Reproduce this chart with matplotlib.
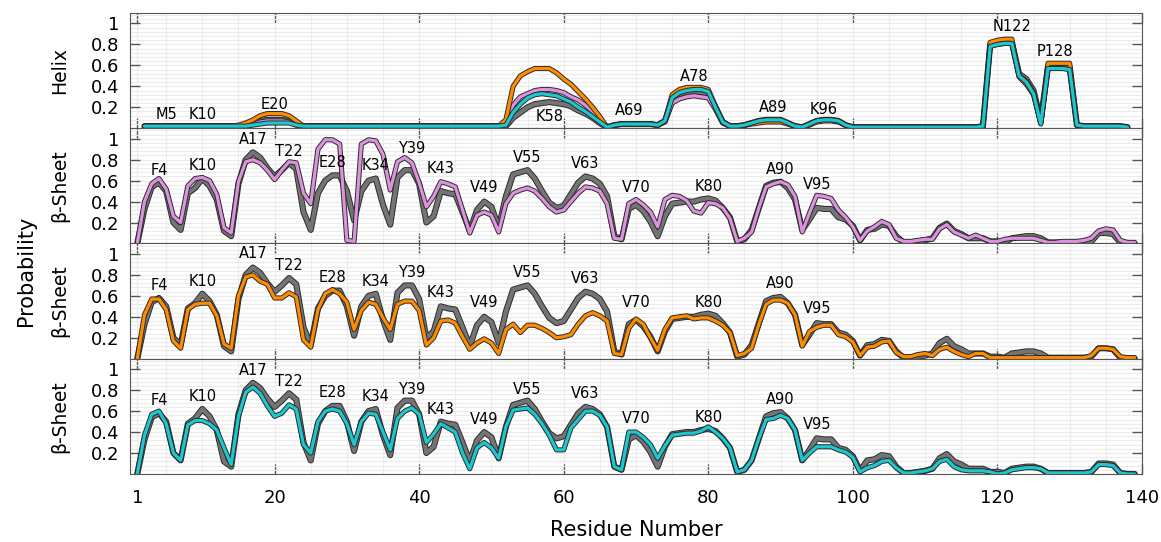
import numpy as np
import matplotlib
matplotlib.use('Agg')
import matplotlib.pyplot as plt
import matplotlib.patheffects as pe
from matplotlib.ticker import MultipleLocator, FixedLocator, FuncFormatter

nan = np.nan
residue = list(range(1, 140))

# ---- helix probability (all four systems) ----
gray_helix = [nan, .02, .02, .02, .02, .02, .02, .02, .02, .02,
              .02, .02, .02, .02, .02, .03, .05, .07, .08, .08,
              .08, .07, .04, .02, .02, .02, .02, .02, .02, .02,
              .02, .02, .02, .02, .02, .02, .02, .02, .02, .02,
              .02, .02, .02, .02, .02, .02, .02, .02, .02, .02,
              .02, .02, .10, .15, .20, .23, .24, .25, .24, .23,
              .21, .17, .14, .10, .05, .01, .03, .04, .04, .04,
              .04, .04, .03, .07, .27, .32, .34, .35, .34, .33,
              .20, .06, .02, .02, .03, .05, .07, .08, .08, .08,
              .05, .02, .01, .04, .07, .08, .08, .07, .03, .01,
              .01, .01, .01, .01, .01, .01, .01, .01, .01, .01,
              .01, .01, .01, .01, .01, .01, .01, .02, .80, .81,
              .82, .82, .52, .47, .36, .07, .59, .59, .59, .58,
              .03, .02, .02, .02, .02, .02, .02, .01, nan]
violet_helix = [nan, .02, .02, .02, .02, .02, .02, .02, .02, .02,
                .02, .02, .02, .02, .02, .02, .04, .06, .07, .07,
                .07, .06, .03, .02, .02, .02, .02, .02, .02, .02,
                .02, .02, .02, .02, .02, .02, .02, .02, .02, .02,
                .02, .02, .02, .02, .02, .02, .02, .02, .02, .02,
                .02, .05, .22, .30, .33, .36, .37, .37, .36, .34,
                .30, .27, .22, .16, .08, .01, .03, .04, .04, .04,
                .04, .04, .03, .06, .24, .28, .30, .31, .30, .29,
                .18, .05, .02, .02, .03, .05, .07, .07, .07, .07,
                .05, .02, .01, .04, .07, .08, .08, .07, .03, .01,
                .01, .01, .01, .01, .01, .01, .01, .01, .01, .01,
                .01, .01, .01, .01, .01, .01, .01, .02, .79, .80,
                .81, .81, .50, .45, .34, .05, .58, .58, .58, .57,
                .03, .02, .02, .02, .02, .02, .02, .01, nan]
orange_helix = [nan, .02, .02, .02, .02, .02, .02, .02, .02, .02,
                .02, .02, .02, .02, .03, .05, .08, .12, .14, .14,
                .14, .12, .07, .02, .02, .02, .02, .02, .02, .02,
                .02, .02, .02, .02, .02, .02, .02, .02, .02, .02,
                .02, .02, .02, .02, .02, .02, .02, .02, .02, .02,
                .02, .08, .40, .50, .54, .57, .57, .57, .53, .47,
                .42, .35, .28, .20, .11, .01, .03, .04, .04, .04,
                .04, .04, .03, .07, .32, .37, .39, .39, .39, .37,
                .21, .06, .02, .02, .03, .04, .05, .06, .06, .06,
                .04, .02, .01, .03, .06, .07, .07, .06, .03, .01,
                .01, .01, .01, .01, .01, .01, .01, .01, .01, .01,
                .01, .01, .01, .01, .01, .01, .01, .02, .82, .84,
                .85, .85, .49, .42, .32, .05, .62, .62, .62, .62,
                .03, .02, .02, .02, .02, .02, .02, .01, nan]
cyan_helix = [nan, .02, .02, .02, .02, .02, .02, .02, .02, .02,
              .02, .02, .02, .02, .02, .02, .03, .04, .05, .05,
              .05, .05, .03, .02, .02, .02, .02, .02, .02, .02,
              .02, .02, .02, .02, .02, .02, .02, .02, .02, .02,
              .02, .02, .02, .02, .02, .02, .02, .02, .02, .02,
              .02, .03, .15, .23, .29, .32, .33, .32, .31, .28,
              .25, .20, .16, .11, .06, .01, .03, .04, .04, .04,
              .04, .04, .03, .07, .29, .34, .36, .37, .37, .35,
              .20, .06, .02, .02, .03, .05, .07, .08, .08, .08,
              .05, .02, .01, .04, .07, .08, .08, .07, .03, .01,
              .01, .01, .01, .01, .01, .01, .01, .01, .01, .01,
              .01, .01, .01, .01, .01, .01, .01, .02, .78, .80,
              .81, .81, .50, .44, .33, .04, .57, .57, .57, .56,
              .03, .02, .02, .02, .02, .02, .02, .01, nan]

# ---- beta-sheet probability ----
gray_sheet = [0, .33, .54, .58, .50, .20, .13, .48, .53, .62,
              .55, .42, .12, .07, .57, .80, .87, .82, .72, .64,
              .70, .77, .71, .30, .13, .48, .60, .65, .65, .50,
              .22, .50, .60, .62, .37, .18, .63, .70, .70, .57,
              .20, .26, .50, .48, .47, .30, .12, .32, .40, .35,
              .15, .45, .66, .68, .70, .62, .50, .39, .34, .36,
              .47, .58, .64, .62, .57, .45, .07, .04, .33, .37,
              .31, .21, .07, .26, .38, .39, .40, .40, .42, .43,
              .41, .34, .25, .02, .04, .13, .34, .55, .58, .59,
              .53, .42, .13, .23, .34, .33, .33, .25, .23, .17,
              .03, .13, .14, .18, .17, .07, .01, .01, .02, .03,
              .05, .15, .19, .12, .09, .05, .05, .05, .02, .02,
              .01, .05, .06, .07, .07, .05, .01, .01, .01, .01,
              .01, .01, .02, .10, .10, .09, .01, .00, .00]
violet_sheet = [0, .40, .57, .62, .52, .26, .20, .55, .62, .63,
                .60, .47, .15, .10, .59, .78, .80, .77, .70, .61,
                .70, .78, .77, .48, .38, .90, .99, .99, .95, .03,
                .02, .95, .99, .98, .85, .51, .78, .82, .77, .58,
                .35, .45, .59, .57, .54, .32, .10, .27, .30, .27,
                .11, .38, .48, .51, .53, .50, .43, .35, .30, .32,
                .40, .48, .54, .53, .50, .38, .05, .04, .38, .42,
                .37, .30, .16, .42, .46, .45, .41, .31, .29, .39,
                .38, .34, .24, .02, .05, .11, .34, .54, .57, .59,
                .56, .45, .11, .29, .46, .45, .43, .32, .25, .16,
                .03, .12, .16, .21, .18, .05, .02, .02, .03, .04,
                .04, .14, .18, .11, .08, .05, .08, .05, .02, .02,
                .04, .05, .05, .05, .05, .03, .01, .01, .02, .02,
                .02, .03, .05, .12, .14, .13, .03, .01, .01]
orange_sheet = [0, .42, .57, .57, .47, .17, .10, .47, .52, .53,
                .53, .41, .14, .10, .60, .78, .80, .74, .71, .58,
                .58, .63, .59, .18, .11, .47, .62, .66, .62, .54,
                .28, .46, .54, .52, .39, .28, .52, .55, .55, .46,
                .13, .20, .36, .37, .34, .21, .09, .15, .19, .15,
                .05, .28, .33, .25, .32, .32, .29, .25, .20, .21,
                .23, .33, .41, .44, .41, .36, .05, .04, .29, .38,
                .33, .20, .08, .28, .39, .40, .41, .38, .39, .39,
                .36, .32, .25, .03, .05, .10, .33, .52, .56, .56,
                .53, .42, .12, .26, .30, .32, .32, .23, .21, .16,
                .03, .11, .12, .16, .17, .06, .02, .02, .04, .05,
                .03, .09, .11, .07, .04, .02, .05, .05, .01, .01,
                .01, .01, .01, .01, .01, .01, .01, .01, .01, .01,
                .01, .01, .03, .10, .10, .09, .02, .01, .01]
cyan_sheet = [0, .37, .57, .60, .48, .20, .13, .47, .51, .51,
              .48, .42, .25, .09, .55, .78, .83, .77, .65, .55,
              .58, .66, .62, .28, .20, .50, .60, .62, .60, .48,
              .28, .50, .58, .57, .40, .23, .53, .60, .63, .57,
              .30, .38, .48, .44, .40, .20, .05, .25, .30, .25,
              .15, .45, .61, .62, .63, .57, .48, .37, .23, .23,
              .44, .52, .60, .60, .56, .45, .07, .04, .40, .40,
              .35, .28, .15, .27, .37, .38, .39, .39, .41, .45,
              .40, .34, .25, .02, .04, .13, .34, .52, .53, .56,
              .53, .42, .13, .20, .26, .26, .26, .23, .21, .16,
              .02, .06, .08, .12, .13, .06, .01, .01, .02, .03,
              .05, .12, .14, .07, .04, .03, .03, .03, .02, .00,
              .01, .04, .05, .06, .06, .05, .01, .01, .01, .01,
              .01, .01, .02, .09, .09, .08, .01, .00, .00]

# ---- residue labels (name, residue, height) ----
helix_labels = [('M5', 5, .13), ('K10', 10, .13), ('E20', 20, .23), ('K58', 58, .11),
                ('A69', 69, .17), ('A78', 78, .49), ('A89', 89, .20), ('K96', 96, .18),
                ('N122', 122, .97), ('P128', 128, .73)]
sheet_names = ['F4', 'K10', 'A17', 'T22', 'E28', 'K34', 'Y39', 'K43', 'V49',
               'V55', 'V63', 'V70', 'K80', 'A90', 'V95']
sheet_pos = [4, 10, 17, 22, 28, 34, 39, 43, 49, 55, 63, 70, 80, 90, 95]
sheet_y2 = [.70, .74, .99, .88, .77, .74, .91, .72, .53, .82, .76, .53, .54, .71, .56]
sheet_y3 = [.70, .74, 1.0, .89, .78, .74, .82, .63, .54, .82, .77, .54, .54, .72, .48]
sheet_y4 = [.70, .74, .99, .88, .78, .74, .81, .62, .52, .81, .77, .53, .54, .71, .47]

GRAY = '#747474'
VIOLET = '#dc92dc'
ORANGE = '#ff8c00'
CYAN = '#1cc8cf'


def outlined(ax, x, y, color, lw=2.3, edge=3.7):
    ax.plot(x, y, color=color, lw=lw, solid_joinstyle='round', solid_capstyle='round',
            path_effects=[pe.Stroke(linewidth=edge, foreground='#2b2b2b'), pe.Normal()])


def main():
    # all tick / grid styling through rcParams so every tick gets it
    plt.rcParams['font.family'] = 'DejaVu Sans'
    plt.rcParams['grid.color'] = '#ebebeb'
    plt.rcParams['grid.linewidth'] = 0.8
    plt.rcParams['grid.linestyle'] = '-'
    for a in ('xtick', 'ytick'):
        plt.rcParams[a + '.direction'] = 'in'
        plt.rcParams[a + '.major.size'] = 7.5
        plt.rcParams[a + '.major.width'] = 1
        plt.rcParams[a + '.minor.size'] = 0
        plt.rcParams[a + '.color'] = '#555555'
        plt.rcParams[a + '.labelcolor'] = 'black'
        plt.rcParams[a + '.labelsize'] = 13
        plt.rcParams[a + '.major.pad'] = 8
    plt.rcParams['xtick.top'] = True
    plt.rcParams['ytick.right'] = True
    plt.rcParams['axes.edgecolor'] = '#555555'

    fig, axes = plt.subplots(4, 1, sharex=True, figsize=(11.61, 5.42), dpi=100,
                             gridspec_kw=dict(hspace=0))
    fig.subplots_adjust(left=0.112, right=0.9836, top=0.976, bottom=0.1255)

    # helix panel
    ax = axes[0]
    outlined(ax, residue, gray_helix, GRAY, lw=3.0, edge=4.4)
    outlined(ax, residue, violet_helix, VIOLET)
    outlined(ax, residue, orange_helix, ORANGE)
    outlined(ax, residue, cyan_helix, CYAN)
    for name, r, h in helix_labels:
        ax.text(r, h, name, ha='center', va='center', fontsize=10.5)
    ax.set_ylabel('Helix', fontsize=13.5)

    # sheet panels
    pairs = [(violet_sheet, VIOLET, sheet_y2), (orange_sheet, ORANGE, sheet_y3),
             (cyan_sheet, CYAN, sheet_y4)]
    for ax, (vals, col, ys) in zip(axes[1:], pairs):
        outlined(ax, residue, gray_sheet, GRAY, lw=3.0, edge=4.4)
        outlined(ax, residue, vals, col)
        for name, r, h in zip(sheet_names, sheet_pos, ys):
            ax.text(r, h, name, ha='center', va='center', fontsize=10.5)
        ax.set_ylabel('β-Sheet', fontsize=13.5)

    for ax in axes:
        ax.set_xlim(0, 140)
        ax.set_ylim(0, 1.1)
        ax.xaxis.set_major_locator(FixedLocator([1, 20, 40, 60, 80, 100, 120, 140]))
        ax.xaxis.set_minor_locator(MultipleLocator(5))
        ax.yaxis.set_major_locator(FixedLocator([0.2, 0.4, 0.6, 0.8, 1.0]))
        ax.yaxis.set_minor_locator(MultipleLocator(0.04))
        ax.yaxis.set_major_formatter(FuncFormatter(lambda v, p: '1' if abs(v - 1) < 1e-6 else f'{v:.1f}'))
        ax.set_axisbelow(True)
        ax.grid(True, which='both')
        ax.yaxis.set_label_coords(-0.06, 0.5)

    axes[-1].tick_params(axis='x', pad=11)
    axes[-1].set_xlabel('Residue Number', fontsize=15, labelpad=9)
    fig.text(0.022, 0.5, 'Probability', rotation=90, ha='center', va='center', fontsize=15)

    fig.savefig('out.png', dpi=100)


if __name__ == '__main__':
    main()
